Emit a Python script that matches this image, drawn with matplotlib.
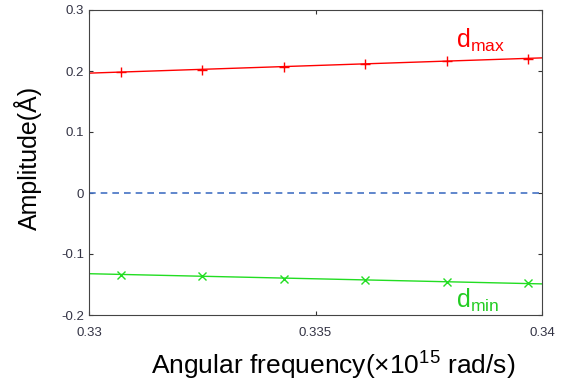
import matplotlib
matplotlib.use('Agg')
import matplotlib.pyplot as plt

plt.rcParams['font.family'] = ['Liberation Sans', 'DejaVu Sans']
plt.rcParams['mathtext.fontset'] = 'custom'
plt.rcParams['mathtext.rm'] = 'Liberation Sans'
plt.rcParams['mathtext.it'] = 'Liberation Sans'

# data
freq = [0.3307, 0.3325, 0.3343, 0.3361, 0.3379, 0.3397]
d_max = [0.198, 0.2016, 0.207, 0.212, 0.2164, 0.2197]
d_min = [-0.1344, -0.1366, -0.1415, -0.143, -0.146, -0.148]

# fitted lines across the whole range
fit_x = [0.33, 0.34]
fit_max = [0.1965, 0.2215]
fit_min = [-0.1323, -0.149]

fig = plt.figure(figsize=(5.63, 3.89), dpi=100)
ax = fig.add_axes([89/563, 1 - 315/389, 453/563, 305/389])

ax.plot(fit_x, fit_max, color='red', lw=1.0)
ax.plot(freq, d_max, '+', color='red', ms=6.5, mew=1.0)
ax.plot(fit_x, fit_min, color='#22dd22', lw=1.0)
ax.plot(freq, d_min, 'x', color='#22dd22', ms=5.5, mew=1.0)
ax.axhline(0, color='#4472C4', ls='--', lw=1.2, dashes=(4, 3))

ax.text(0.3381, 0.2377, r'$\mathregular{d_{max}}$', color='red', fontsize=18)
ax.text(0.3381, -0.1885, r'$\mathregular{d_{min}}$', color='#22cc22', fontsize=18)

ax.set_xlim(0.33, 0.34)
ax.set_ylim(-0.2, 0.3)
ax.set_xticks([0.33, 0.335, 0.34])
ax.set_xticklabels(['0.33', '0.335', '0.34'])
ax.set_yticks([-0.2, -0.1, 0, 0.1, 0.2, 0.3])
ax.set_yticklabels(['-0.2', '-0.1', '0', '0.1', '0.2', '0.3'])
ax.tick_params(direction='in', top=True, right=True, length=3, labelsize=9.5,
               colors='#333333', labelcolor='#333344')
ax.tick_params(axis='x', pad=9)
for s in ax.spines.values():
    s.set_color('#444444')

ax.set_xlabel('Angular frequency(\u00d710$^{15}$ rad/s)', fontsize=19)
ax.set_ylabel('Amplitude(\u00c5)', fontsize=18)
ax.xaxis.set_label_coords(0.54, -0.115)
ax.yaxis.set_label_coords(-0.104, 0.515)

fig.savefig('out.png', dpi=100)
